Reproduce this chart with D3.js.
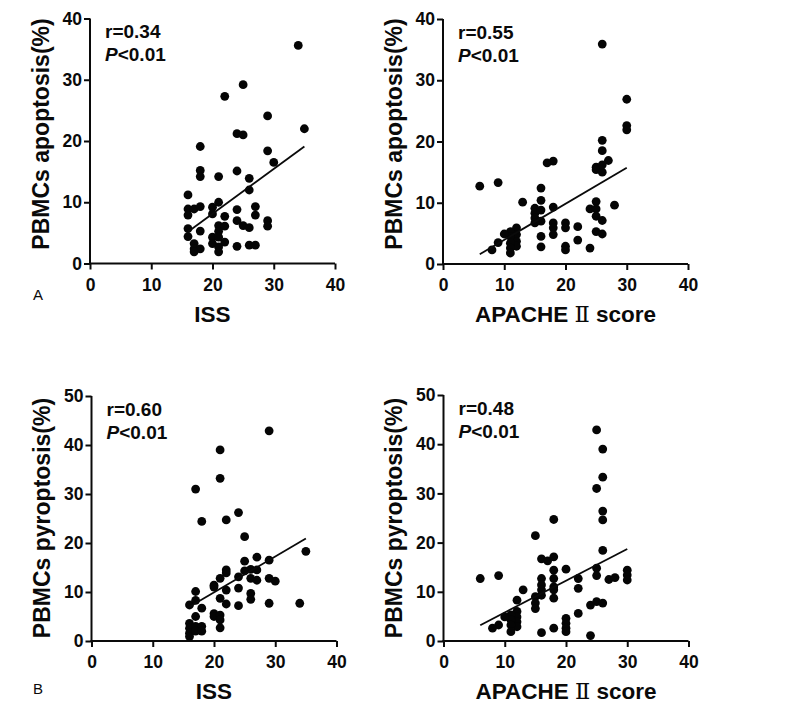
<!DOCTYPE html>
<html>
<head>
<meta charset="utf-8">
<script src="https://cdn.jsdelivr.net/npm/d3@7/dist/d3.min.js"></script>
<style>
  html, body { margin: 0; padding: 0; background: #fff; }
  svg { display: block; }
  text { font-family: "Liberation Sans", Arial, Helvetica, sans-serif; fill: #0a0a0a; }
</style>
</head>
<body>
<svg id="chart" width="800" height="706"></svg>
<script>
// ---------------- data ----------------
const xTicks = [0, 10, 20, 30, 40];
const yTicksApoptosis = [0, 10, 20, 30, 40];
const yTicksPyroptosis = [0, 10, 20, 30, 40, 50];

const issApoptosis = [
  [34,35.6],[25,29.2],[22,27.3],[29,24.1],[35,22.0],[24,21.2],[25,21.0],[18,19.1],[29,18.4],[30,16.5],
  [18,15.2],[18,14.2],[21,14.2],[24,15.1],[26,13.9],[26,12.0],[16,11.2],[16,8.9],[17,8.9],[18,9.3],
  [16,7.9],[20,9.2],[21,10.0],[20,8.1],[24,8.8],[27,9.3],[27,7.9],[22,7.7],[24,7.0],[25,6.2],
  [26,5.85],[29,7.0],[29,6.1],[21,6.2],[22,6.1],[21,5.25],[16,5.7],[18,5.3],[16,4.4],[20,4.3],
  [21,4.3],[17,3.25],[17,2.4],[18,2.4],[20,3.25],[21,2.7],[22,3.5],[24,2.8],[26,3.0],[27,3.0],
  [17,1.9],[21,1.9]
];
const apacheApoptosis = [
  [26,35.9],[30,26.9],[30,22.6],[30,21.9],[26,20.2],[26,18.5],[27,16.9],[25,15.8],[25,15.4],[26,15.0],
  [26,16.2],[28,9.6],[25,10.2],[24,9.0],[25,9.0],[25,7.8],[26,7.1],[25,5.3],[26,4.9],[22,6.1],
  [22,3.9],[24,2.6],[6,12.7],[9,13.3],[17,16.5],[18,16.8],[16,12.4],[13,10.1],[16,10.4],[15,9.1],
  [15,8.3],[15,7.5],[15,6.7],[16,8.8],[16,7.0],[18,9.3],[18,6.7],[18,5.9],[18,4.8],[20,6.7],
  [20,5.9],[20,2.9],[20,2.3],[16,4.5],[16,2.8],[12,5.9],[12,4.8],[12,3.7],[12,2.9],[11,5.3],
  [11,4.5],[11,3.4],[11,2.6],[11,1.8],[10,4.9],[9,3.5],[8,2.3]
];
const issPyroptosis = [
  [29,42.9],[21,39.0],[21,33.2],[17,31.0],[24,26.2],[18,24.4],[22,24.7],[25,21.3],[35,18.3],[29,16.5],
  [27,17.1],[25,16.3],[26,14.6],[27,14.5],[25,14.3],[22,14.5],[22,13.9],[21,12.8],[24,13.1],[26,12.8],
  [27,12.4],[29,12.8],[30,12.2],[20,11.4],[20,11.0],[22,10.4],[24,10.8],[26,9.7],[26,8.5],[21,8.7],
  [22,7.55],[24,7.2],[29,7.7],[34,7.7],[17,10.1],[16,7.35],[17,8.3],[18,6.7],[20,5.6],[20,5.0],
  [21,5.3],[21,4.3],[21,2.7],[16,3.6],[16,2.6],[16,1.6],[16,0.9],[17,5.0],[17,3.0],[18,3.0],
  [17,2.0],[18,2.0]
];
const apachePyroptosis = [
  [25,42.9],[26,39.0],[26,33.3],[25,31.0],[26,26.4],[26,24.6],[18,24.7],[15,21.4],[26,18.4],[25,14.8],
  [25,13.3],[22,12.7],[22,10.7],[27,12.5],[28,12.9],[30,14.4],[30,13.4],[30,12.4],[22,5.6],[24,7.3],
  [25,8.0],[26,7.7],[24,1.1],[6,12.7],[9,13.3],[16,16.7],[17,16.3],[18,17.1],[18,14.4],[18,12.7],
  [20,14.6],[16,12.7],[16,11.4],[16,10.4],[16,9.3],[18,11.0],[18,10.4],[18,8.7],[15,9.0],[15,7.7],
  [15,6.6],[13,10.4],[12,8.3],[12,6.0],[12,4.9],[12,3.9],[12,2.9],[11,5.3],[11,4.3],[11,3.25],
  [11,1.9],[10,4.9],[9,3.25],[8,2.6],[16,1.7],[18,2.6],[20,4.6],[20,3.6],[20,2.6],[20,1.9]
];

// regression lines: [x1, y1, x2, y2]
const fitIssApoptosis = [16, 5.2, 35, 19.1];
const fitApacheApoptosis = [6, 1.6, 30, 15.7];
const fitIssPyroptosis = [16, 7.0, 35, 20.9];
const fitApachePyroptosis = [6, 3.2, 30, 18.7];

const stats = [["r=0.34", "<0.01"], ["r=0.55", "<0.01"], ["r=0.60", "<0.01"], ["r=0.48", "<0.01"]];
const yTitles = ["PBMCs apoptosis(%)", "PBMCs pyroptosis(%)"];
const xTitles = ["ISS", "APACHE \u2161 score"];
const panelLetters = ["A", "B"];

// ---------------- layout ----------------
const svg = d3.select("#chart");
const panels = [
  {L: 90,    R: 335,   T: 18.5, B: 263.5, data: issApoptosis,    fit: fitIssApoptosis,    yMax: 40, yTicks: yTicksApoptosis,  yTitle: yTitles[0], xTitle: 0, stat: stats[0], titleCY: 134},
  {L: 443,   R: 688,   T: 19,   B: 264,   data: apacheApoptosis, fit: fitApacheApoptosis, yMax: 40, yTicks: yTicksApoptosis,  yTitle: yTitles[0], xTitle: 1, stat: stats[1], titleCY: 134},
  {L: 91.5,  R: 336.5, T: 396,  B: 641,   data: issPyroptosis,   fit: fitIssPyroptosis,   yMax: 50, yTicks: yTicksPyroptosis, yTitle: yTitles[1], xTitle: 0, stat: stats[2], titleCY: 518},
  {L: 443.5, R: 688.5, T: 395,  B: 641,   data: apachePyroptosis,fit: fitApachePyroptosis,yMax: 50, yTicks: yTicksPyroptosis, yTitle: yTitles[1], xTitle: 1, stat: stats[3], titleCY: 518}
];

panels.forEach(p => {
  const x = d3.scaleLinear().domain([0, 40]).range([p.L, p.R]);
  const y = d3.scaleLinear().domain([0, p.yMax]).range([p.B, p.T]);
  const g = svg.append("g");

  // axes
  const xAxis = g.append("g").attr("transform", `translate(0,${p.B})`)
    .call(d3.axisBottom(x).tickValues(xTicks).tickSize(6).tickSizeOuter(0).tickPadding(9));
  const yAxis = g.append("g").attr("transform", `translate(${p.L},0)`)
    .call(d3.axisLeft(y).tickValues(p.yTicks).tickSize(6).tickSizeOuter(0).tickPadding(2));
  [xAxis, yAxis].forEach(a => {
    a.select(".domain").attr("stroke", "#0a0a0a").attr("stroke-width", 2);
    a.selectAll(".tick line").attr("stroke", "#0a0a0a").attr("stroke-width", 2);
    a.selectAll(".tick text").attr("fill", "#0a0a0a")
      .style("font-family", "'Liberation Sans', Arial, sans-serif")
      .style("font-weight", "bold").style("font-size", "17.5px");
  });
  xAxis.select(".domain").attr("d", `M${p.L - 1},0H${p.R}`);
  yAxis.select(".domain").attr("d", `M0,${p.T}V${p.B + 1}`);

  // points
  g.append("g").selectAll("circle").data(p.data).join("circle")
    .attr("cx", d => x(d[0])).attr("cy", d => y(d[1])).attr("r", 4.4).attr("fill", "#050505");

  // regression line
  g.append("line")
    .attr("x1", x(p.fit[0])).attr("y1", y(p.fit[1]))
    .attr("x2", x(p.fit[2])).attr("y2", y(p.fit[3]))
    .attr("stroke", "#0a0a0a").attr("stroke-width", 1.8);

  // annotations
  g.append("text").attr("x", p.L + 15).attr("y", p.T + 19.5)
    .style("font-weight", "bold").style("font-size", "19px").text(p.stat[0]);
  const t2 = g.append("text").attr("x", p.L + 15).attr("y", p.T + 42.5)
    .style("font-weight", "bold").style("font-size", "19px");
  t2.append("tspan").style("font-style", "italic").text("P");
  t2.append("tspan").text(p.stat[1]);

  // y title
  g.append("text")
    .attr("transform", `translate(${p.L - 41.5},${p.titleCY}) rotate(-90)`)
    .attr("text-anchor", "middle")
    .style("font-weight", "bold").style("font-size", "23px").text(p.yTitle);

  // x title
  const xt = g.append("text").attr("x", (p.L + p.R) / 2).attr("y", p.B + 58)
    .attr("text-anchor", "middle").style("font-weight", "bold").style("font-size", "22.5px");
  if (p.xTitle === 0) {
    xt.text(xTitles[0]);
  } else {
    const parts = xTitles[1].split("\u2161");
    xt.append("tspan").text(parts[0]);
    xt.append("tspan").style("font-family", "'DejaVu Serif', 'Liberation Serif', serif")
      .style("font-weight", "normal").text("\u2161");
    xt.append("tspan").text(parts[1]);
  }
});

// panel letters
svg.append("text").attr("x", 33).attr("y", 300).style("font-size", "15px").text(panelLetters[0]);
svg.append("text").attr("x", 33).attr("y", 694).style("font-size", "15px").text(panelLetters[1]);
</script>
</body>
</html>
